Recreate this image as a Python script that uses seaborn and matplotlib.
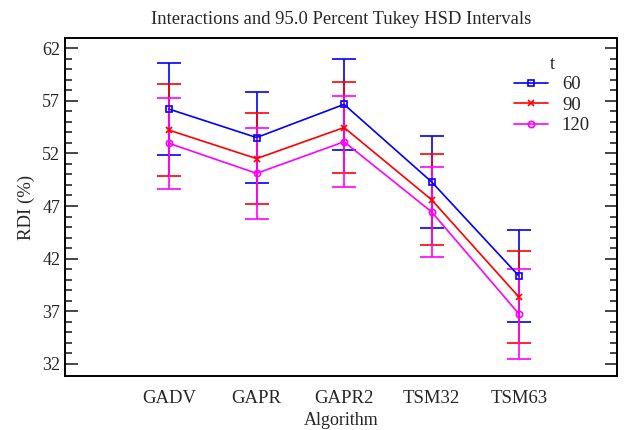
import numpy as np
import pandas as pd
import matplotlib
matplotlib.use("Agg")
import matplotlib.pyplot as plt
import seaborn as sns

# Values
algorithms = ["GADV", "GAPR", "GAPR2", "TSM32", "TSM63"]
t_levels = ["60", "90", "120"]
rdi_60 = [56.2, 53.5, 56.65, 49.3, 40.35]
rdi_90 = [54.2, 51.5, 54.45, 47.6, 38.35]
rdi_120 = [52.95, 50.1, 53.1, 46.45, 36.75]
hsd_half = [4.35, 4.35, 4.3]  # half-width of Tukey HSD interval per t level

colors = ["#0000ff", "#ff0000", "#ff00ff"]
markers = ["s", "x", "o"]

df = pd.DataFrame({
    "Algorithm": algorithms * 3,
    "RDI": rdi_60 + rdi_90 + rdi_120,
    "t": [lvl for lvl in t_levels for _ in algorithms],
})

sns.set_theme(style="ticks")
plt.rcParams["font.family"] = ["Liberation Serif", "DejaVu Serif"]

fig = plt.figure(figsize=(6.27, 4.30), dpi=100)
ax = fig.add_axes([0.1037, 0.1256, 0.8803, 0.786])

# interval bars first, lines/markers on top
for lvl, col, half in zip(t_levels, colors, hsd_half):
    sub = df[df["t"] == lvl]
    ax.errorbar(np.arange(len(algorithms)), sub["RDI"].values, yerr=half,
                fmt="none", ecolor=col, elinewidth=1.2, capsize=8.5, capthick=1.2,
                zorder=2)

sns.pointplot(data=df, x="Algorithm", y="RDI", hue="t", hue_order=t_levels,
              palette=colors, markers=markers, linestyles="-", errorbar=None,
              dodge=False, markersize=4.5, linewidth=1.2, ax=ax, zorder=3)

for line in ax.lines:
    line.set_markerfacecolor("none")
    line.set_markeredgewidth(1.2)

leg = ax.get_legend()
for h in leg.legend_handles:
    h.set_markerfacecolor("none")
    h.set_markeredgewidth(1.2)
sns.move_legend(ax, "upper left", bbox_to_anchor=(0.783, 0.997), title="t",
                frameon=False, fontsize=13.5, title_fontsize=13.5,
                handlelength=1.8, handletextpad=0.75, labelspacing=0.18)

ax.set_xlim(-1.19, 5.12)
ax.set_ylim(30.86, 62.95)
ax.set_yticks(np.arange(32, 63, 5))
ax.set_yticks(np.arange(32, 63, 1), minor=True)

ax.tick_params(axis="y", which="both", direction="in", left=True, right=True,
               labelsize=13)
ax.tick_params(axis="y", which="major", length=9, width=1.2)
ax.tick_params(axis="y", which="minor", length=5, width=1.2)
ax.tick_params(axis="x", which="both", bottom=False, top=False,
               labelsize=13.5, pad=4)

for s in ax.spines.values():
    s.set_visible(True)
    s.set_linewidth(1.4)
    s.set_color("black")

ax.set_xlabel("Algorithm", fontsize=13, labelpad=4)
ax.set_ylabel("RDI (%)", fontsize=13.5, labelpad=5)
ax.set_title("Interactions and 95.0 Percent Tukey HSD Intervals", fontsize=13.4, pad=10)

fig.savefig("out.png", dpi=100)
